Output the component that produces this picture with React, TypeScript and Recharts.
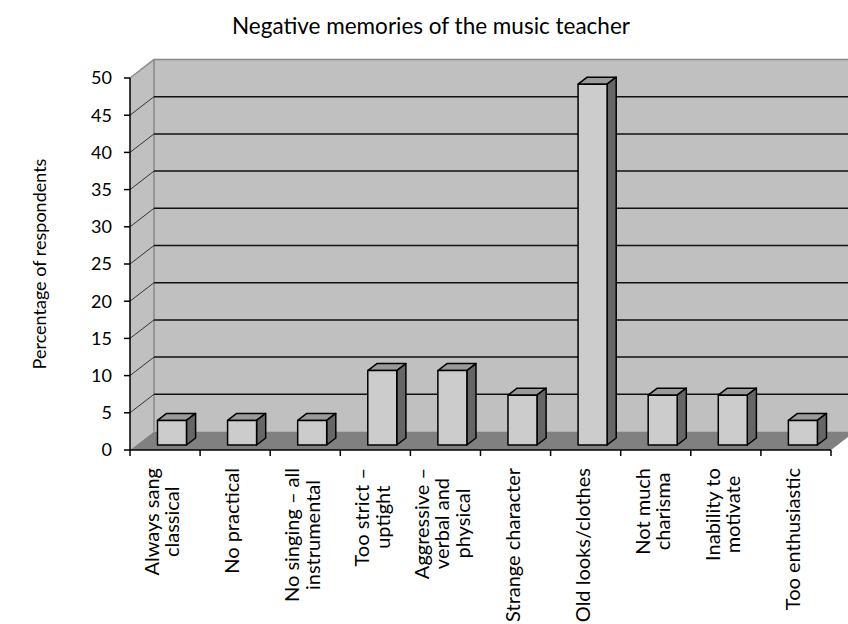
import { BarChart, Bar, XAxis, YAxis, CartesianGrid } from 'recharts'

const categories = [
  'Always sang\nclassical',
  'No practical',
  'No singing – all\ninstrumental',
  'Too strict –\nuptight',
  'Aggressive –\nverbal and\nphysical',
  'Strange character',
  'Old looks/clothes',
  'Not much\ncharisma',
  'Inability to\nmotivate',
  'Too enthusiastic',
]

const percentages = [3.3, 3.3, 3.3, 10, 10, 6.7, 48.5, 6.7, 6.7, 3.3]

const yTicks = [0, 5, 10, 15, 20, 25, 30, 35, 40, 45, 50]

const rows = categories.map((label, i) => ({ label, value: percentages[i] }))

const W = 848
const H = 624
const FONT = 'Lato, "Open Sans", sans-serif'

// front plane of the plot
const PLOT = { left: 130, top: 78, right: 831, bottom: 450 }
const BAND = (PLOT.right - PLOT.left) / categories.length

// depth of the 3d box (back wall offset)
const DX = 24
const DY = -18.5

// bars sit between these depth fractions
const BAR_FRONT = 0.27
const BAR_BACK = 0.65

let measureCtx: CanvasRenderingContext2D | null = null
const textWidth = (s: string, size: number) => {
  if (!measureCtx) measureCtx = document.createElement('canvas').getContext('2d')
  if (!measureCtx) return s.length * size * 0.5
  measureCtx.font = `${size}px ${FONT}`
  return measureCtx.measureText(s).width
}

const Box3D = (props: any) => {
  const { x, y, width, height } = props
  if (height == null || width == null) return null
  const fx = x + DX * BAR_FRONT
  const fy = y + DY * BAR_FRONT
  const dx = DX * (BAR_BACK - BAR_FRONT)
  const dy = DY * (BAR_BACK - BAR_FRONT)
  const r = fx + width
  const b = fy + height
  return (
    <g stroke="#000" strokeWidth={1.5} strokeLinejoin="round">
      <polygon points={`${fx},${fy} ${fx + dx},${fy + dy} ${r + dx},${fy + dy} ${r},${fy}`} fill="#9a9a9a" />
      <polygon points={`${r},${fy} ${r + dx},${fy + dy} ${r + dx},${b + dy} ${r},${b}`} fill="#666666" />
      <rect x={fx} y={fy} width={width} height={height} fill="#cccccc" />
    </g>
  )
}

const wallLine = (p: any) => {
  const { x1, y1, x2, index } = p
  if (Math.abs(y1 - PLOT.bottom) < 1 || Math.abs(y1 - PLOT.top) < 1) return <g key={`wl-${index}`} />
  return (
    <g key={`wl-${index}`}>
      <line x1={x1} y1={y1} x2={x1 + DX} y2={y1 + DY} stroke="#333" strokeWidth={1} />
      <line x1={x1 + DX} y1={y1 + DY} x2={x2 + DX} y2={y1 + DY} stroke="#111" strokeWidth={1.5} />
    </g>
  )
}

const LABEL_SIZE = 20
const LINE_H = 20.5

const CategoryTick = (props: any) => {
  const { x, y, payload, index } = props
  const lines: string[] = String(payload.value).split('\n')
  const maxW = Math.max(...lines.map((l) => textWidth(l, LABEL_SIZE)))
  const cx = x - 3
  const top = y + 18
  const left = x - BAND / 2
  const right = x + BAND / 2
  return (
    <g>
      <line x1={left} y1={y} x2={left} y2={y + 6} stroke="#000" strokeWidth={1.5} />
      {index === categories.length - 1 && <line x1={right} y1={y} x2={right} y2={y + 6} stroke="#000" strokeWidth={1.5} />}
      <g transform={`translate(${cx},${top}) rotate(-90)`}>
        {lines.map((l, i) => (
          <text
            key={i}
            x={-maxW / 2}
            y={(i - (lines.length - 1) / 2) * LINE_H}
            dy="0.35em"
            textAnchor="middle"
            fontSize={LABEL_SIZE}
            fontFamily={FONT}
            fill="#000"
          >
            {l}
          </text>
        ))}
      </g>
    </g>
  )
}

export default function App() {
  const { left, top, right, bottom } = PLOT
  return (
    <div style={{ position: 'absolute', left: 0, top: 0, width: W, height: H, background: '#fff' }}>
      {/* walls, floor and headings under the chart */}
      <svg width={W} height={H} style={{ position: 'absolute', left: 0, top: 0 }}>
        <polygon
          points={`${left},${top} ${left + DX},${top + DY} ${W},${top + DY} ${W},${bottom + DY} ${left + DX},${bottom + DY} ${left},${bottom}`}
          fill="#c0c0c0"
        />
        <polyline
          points={`${left},${top} ${left + DX},${top + DY} ${W},${top + DY}`}
          fill="none"
          stroke="#888"
          strokeWidth={1.5}
        />
        <line x1={left + DX} y1={top + DY} x2={left + DX} y2={bottom + DY} stroke="#888" strokeWidth={1.5} />
        <polygon
          points={`${left},${bottom} ${left + DX},${bottom + DY} ${right + DX},${bottom + DY} ${right},${bottom}`}
          fill="#808080"
        />
        <text x={431} y={26} dy="0.35em" textAnchor="middle" fontSize={22.5} fontFamily={FONT} fill="#000">
          Negative memories of the music teacher
        </text>
        <text
          transform={`translate(40,${(top + bottom) / 2}) rotate(-90)`}
          dy="0.35em"
          textAnchor="middle"
          fontSize={18}
          fontFamily={FONT}
          fill="#000"
        >
          Percentage of respondents
        </text>
      </svg>
      <div style={{ position: 'absolute', left: 0, top: 0 }}>
        <BarChart
          width={W}
          height={H}
          data={rows}
          barSize={29}
          margin={{ top, right: W - right, bottom: H - bottom - 160, left: left - 60 }}
        >
          <CartesianGrid vertical={false} horizontal={wallLine} />
          <XAxis
            dataKey="label"
            interval={0}
            height={160}
            tickLine={false}
            tickSize={0}
            tickMargin={0}
            axisLine={{ stroke: '#000', strokeWidth: 1.5 }}
            tick={(p: any) => <CategoryTick {...p} />}
          />
          <YAxis
            domain={[0, 50]}
            ticks={yTicks}
            width={60}
            tickSize={6}
            tickMargin={12}
            axisLine={{ stroke: '#000', strokeWidth: 1.5 }}
            tickLine={{ stroke: '#000', strokeWidth: 1.5 }}
            tick={{ fontSize: 18, fontFamily: FONT, fill: '#000' }}
          />
          <Bar dataKey="value" shape={(p: any) => <Box3D {...p} />} isAnimationActive={false} />
        </BarChart>
      </div>
    </div>
  )
}
